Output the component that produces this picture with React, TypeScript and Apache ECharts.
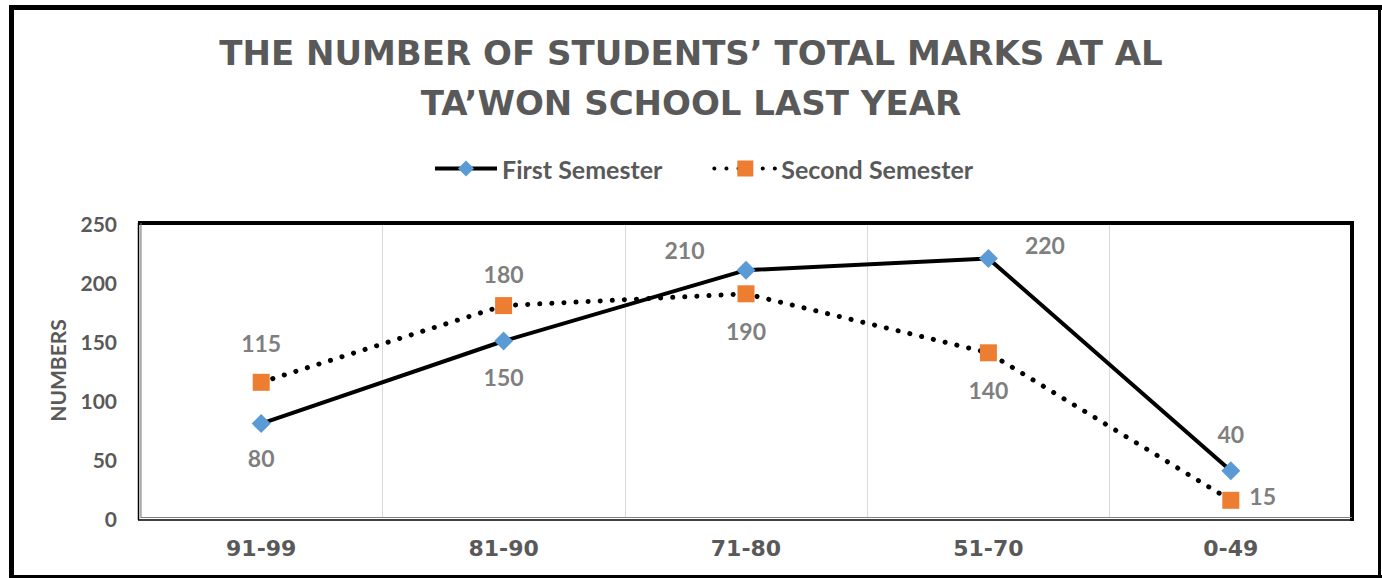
import React, { useEffect, useRef } from "react";
import * as echarts from "echarts";

const categories = ["91-99", "81-90", "71-80", "51-70", "0-49"];
const firstSemester = [80, 150, 210, 220, 40];
const secondSemester = [115, 180, 190, 140, 15];
const yTicks = [0, 50, 100, 150, 200, 250];

const FONT = "Lato, 'Open Sans', sans-serif";
const WIDE = "'DejaVu Sans', Lato, sans-serif";
const G = { left: 140, top: 223, right: 1352, bottom: 518 };

// label placement styles per point
const firstLabelStyle = [
  { position: "bottom", distance: 13 },
  { position: "bottom", distance: 15 },
  { position: "left", distance: 32, offset: [0, -20] },
  { position: "right", distance: 27, offset: [0, -13] },
  { position: "top", distance: 16 },
];
const secondLabelStyle = [
  { position: "top", distance: 19 },
  { position: "top", distance: 12 },
  { position: "bottom", distance: 17 },
  { position: "bottom", distance: 17 },
  { position: "right", distance: 10, offset: [0, -4] },
];

export default function App() {
  const ref = useRef<HTMLDivElement>(null);
  useEffect(() => {
    document.body.style.margin = "0";
    const chart = echarts.init(ref.current!, null, { renderer: "svg" });
    const labelBase = {
      show: true,
      color: "#7f7f7f",
      fontFamily: FONT,
      fontWeight: "bold",
      fontSize: 23,
    };
    chart.setOption({
      animation: false,
      backgroundColor: "#fff",
      title: {
        text: "THE NUMBER OF STUDENTS’ TOTAL MARKS AT AL\nTA’WON SCHOOL LAST YEAR",
        left: "center",
        top: 23,
        textStyle: {
          color: "#595959",
          fontFamily: WIDE,
          fontWeight: "bold",
          fontSize: 34,
          lineHeight: 50,
        },
      },
      legend: {
        top: 151,
        left: 428,
        itemWidth: 62,
        itemHeight: 20,
        itemGap: 50,
        lineStyle: { width: 4 },
        textStyle: {
          color: "#595959",
          fontFamily: FONT,
          fontWeight: "bold",
          fontSize: 25,
        },
        data: ["First Semester", "Second Semester"],
      },
      grid: {
        left: G.left,
        top: G.top,
        width: G.right - G.left,
        height: G.bottom - G.top,
        containLabel: false,
      },
      xAxis: {
        type: "category",
        data: categories,
        boundaryGap: true,
        axisLine: { show: false },
        axisTick: { show: false },
        splitLine: { show: true, lineStyle: { color: "#d9d9d9", width: 1 } },
        axisLabel: {
          color: "#595959",
          fontFamily: WIDE,
          fontWeight: "bold",
          fontSize: 22,
          margin: 19,
        },
      },
      yAxis: {
        type: "value",
        min: 0,
        max: 250,
        interval: 50,
        name: "NUMBERS",
        nameLocation: "middle",
        nameGap: 72,
        nameTextStyle: {
          color: "#595959",
          fontFamily: FONT,
          fontWeight: "bold",
          fontSize: 21,
        },
        axisLine: { show: false },
        axisTick: { show: false },
        splitLine: { show: false },
        axisLabel: {
          color: "#595959",
          fontFamily: FONT,
          fontWeight: "bold",
          fontSize: 21,
          margin: 23,
          formatter: (v: number) => (yTicks.includes(v) ? String(v) : ""),
        },
      },
      series: [
        {
          name: "First Semester",
          type: "line",
          data: firstSemester.map((v, i) => ({
            value: v,
            label: { ...labelBase, ...firstLabelStyle[i] },
          })),
          symbol: "diamond",
          symbolSize: 19,
          itemStyle: { color: "#5b9bd5" },
          lineStyle: { color: "#000", width: 4 },
          z: 3,
        },
        {
          name: "Second Semester",
          type: "line",
          data: secondSemester.map((v, i) => ({
            value: v,
            label: { ...labelBase, ...secondLabelStyle[i] },
          })),
          symbol: "rect",
          symbolSize: 17,
          itemStyle: { color: "#ed7d31" },
          lineStyle: { color: "#000", width: 5, type: [0.1, 12], cap: "round" },
          z: 2,
        },
      ],
      graphic: [
        // outer frame
        { type: "line", shape: { x1: 11.5, y1: 5, x2: 11.5, y2: 578 }, style: { stroke: "#000", lineWidth: 5 } },
        { type: "line", shape: { x1: 9, y1: 7.5, x2: 1382, y2: 7.5 }, style: { stroke: "#000", lineWidth: 5 } },
        { type: "line", shape: { x1: 1379.5, y1: 5, x2: 1379.5, y2: 578 }, style: { stroke: "#000", lineWidth: 3 } },
        { type: "line", shape: { x1: 9, y1: 576.5, x2: 1382, y2: 576.5 }, style: { stroke: "#000", lineWidth: 3 } },
        // plot area frame
        { type: "line", z: 10, shape: { x1: G.left - 2, y1: G.top, x2: G.right + 2, y2: G.top }, style: { stroke: "#000", lineWidth: 4 } },
        { type: "line", z: 10, shape: { x1: G.right, y1: G.top - 2, x2: G.right, y2: G.bottom + 3 }, style: { stroke: "#000", lineWidth: 4 } },
        { type: "line", z: 10, shape: { x1: G.left - 1.5, y1: G.top, x2: G.left - 1.5, y2: G.bottom + 2 }, style: { stroke: "#000", lineWidth: 1.5 } },
        { type: "line", z: 10, shape: { x1: G.left + 1, y1: G.top, x2: G.left + 1, y2: G.bottom }, style: { stroke: "#7f7f7f", lineWidth: 1 } },
        { type: "line", z: 10, shape: { x1: G.left + 1, y1: G.bottom - 0.5, x2: G.right, y2: G.bottom - 0.5 }, style: { stroke: "#7f7f7f", lineWidth: 1 } },
        { type: "line", z: 10, shape: { x1: G.left - 2, y1: G.bottom + 2, x2: G.right, y2: G.bottom + 2 }, style: { stroke: "#000", lineWidth: 1.5 } },
      ],
    });
    return () => chart.dispose();
  }, []);
  return <div ref={ref} style={{ width: 1382, height: 578 }} />;
}
